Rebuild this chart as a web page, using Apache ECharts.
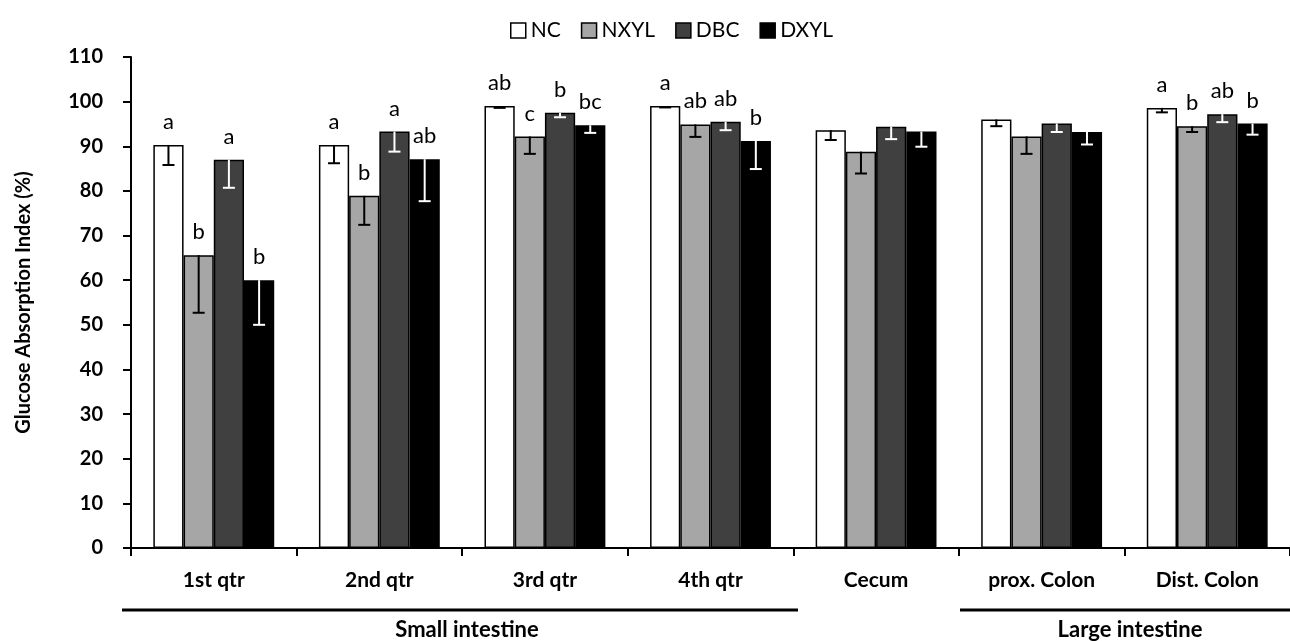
<!DOCTYPE html>
<html>
<head>
<meta charset="utf-8">
<script src="https://cdn.jsdelivr.net/npm/echarts@6/dist/echarts.min.js"></script>
<style>
html,body{margin:0;padding:0;background:#fff;}
#chart{width:1290px;height:641px;}
</style>
</head>
<body>
<div id="chart"></div>
<script>
// ---- data ----
const categories = ['1st qtr', '2nd qtr', '3rd qtr', '4th qtr', 'Cecum', 'prox. Colon', 'Dist. Colon'];
const seriesNames = ['NC', 'NXYL', 'DBC', 'DXYL'];
const ncValues   = [90.3, 90.3, 99.0, 99.0, 93.6, 96.0, 98.6];
const nxylValues = [65.6, 78.9, 92.2, 94.9, 88.8, 92.2, 94.5];
const dbcValues  = [87.0, 93.3, 97.5, 95.5, 94.4, 95.1, 97.2];
const dxylValues = [60.0, 87.1, 94.7, 91.2, 93.3, 93.2, 95.1];
const ncErr   = [4.5, 4.1, 0.4, 0.3, 2.2, 1.5, 1.0];
const nxylErr = [12.9, 6.5, 3.9, 2.8, 4.9, 3.9, 1.3];
const dbcErr  = [6.3, 4.5, 1.0, 1.9, 2.8, 1.9, 1.8];
const dxylErr = [10.0, 9.4, 1.7, 6.3, 3.4, 2.8, 2.5];
const ncLetters   = ['a', 'a', 'ab', 'a', '', '', 'a'];
const nxylLetters = ['b', 'b', 'c', 'ab', '', '', 'b'];
const dbcLetters  = ['a', 'a', 'b', 'ab', '', '', 'ab'];
const dxylLetters = ['b', 'ab', 'bc', 'b', '', '', 'b'];
const yTicks = [0, 10, 20, 30, 40, 50, 60, 70, 80, 90, 100, 110];
const groupLabels = ['Small intestine', 'Large intestine'];

// ---- styling ----
const FONT = 'Lato, "Open Sans", sans-serif';
const fills = ['#FFFFFF', '#A6A6A6', '#404040', '#000000'];
const errColors = ['#000000', '#000000', '#FFFFFF', '#FFFFFF'];
const values = [ncValues, nxylValues, dbcValues, dxylValues];
const errs = [ncErr, nxylErr, dbcErr, dxylErr];
const letters = [ncLetters, nxylLetters, dbcLetters, dxylLetters];
const GAP = 0.27;

const barSeries = seriesNames.map((name, i) => ({
  name: name,
  type: 'bar',
  barGap: '0%',
  barCategoryGap: (GAP * 100) + '%',
  data: values[i],
  itemStyle: { color: fills[i], borderColor: '#000', borderWidth: 1.5 },
  label: {
    show: true,
    position: 'top',
    distance: 12,
    fontFamily: FONT,
    fontSize: 22,
    color: '#000',
    formatter: p => letters[i][p.dataIndex]
  },
  z: 2
}));

const errSeries = seriesNames.map((name, i) => ({
  type: 'custom',
  z: 5,
  silent: true,
  data: values[i].map((v, k) => [k, v, errs[i][k]]),
  encode: { x: 0, y: 1 },
  renderItem: function (params, api) {
    const k = api.value(0), v = api.value(1), e = api.value(2);
    const catW = api.size([1, 0])[0];
    const bw = catW * (1 - GAP) / 4;
    const off = (i - 1.5) * bw;
    const top = api.coord([k, v]);
    const bot = api.coord([k, v - e]);
    const x = top[0] + off;
    const cap = 6;
    const st = { stroke: errColors[i], lineWidth: 2 };
    return {
      type: 'group',
      children: [
        { type: 'line', shape: { x1: x, y1: top[1], x2: x, y2: bot[1] }, style: st },
        { type: 'line', shape: { x1: x - cap, y1: bot[1], x2: x + cap, y2: bot[1] }, style: st }
      ]
    };
  }
}));

const chart = echarts.init(document.getElementById('chart'));
chart.setOption({
  animation: false,
  backgroundColor: '#fff',
  legend: {
    data: seriesNames,
    top: 15,
    left: 505,
    itemWidth: 15,
    itemHeight: 15,
    itemGap: 20,
    icon: 'rect',
    itemStyle: { borderColor: '#000', borderWidth: 1.5 },
    textStyle: { fontFamily: FONT, fontSize: 21, color: '#000' }
  },
  grid: { left: 131, right: -8, top: 57, bottom: 93, containLabel: false },
  xAxis: {
    type: 'category',
    data: categories,
    axisLine: { lineStyle: { color: '#000', width: 2 } },
    axisTick: { show: true, length: 8, lineStyle: { color: '#000', width: 2 } },
    axisLabel: { fontFamily: FONT, fontSize: 21, fontWeight: 'bold', color: '#000', margin: 22 }
  },
  yAxis: {
    type: 'value',
    min: 0, max: 110, interval: 10,
    name: 'Glucose Absorption Index (%)',
    nameLocation: 'middle',
    nameGap: 97,
    nameTextStyle: { fontFamily: FONT, fontSize: 20, fontWeight: 'bold', color: '#000' },
    axisLine: { show: true, lineStyle: { color: '#000', width: 2 } },
    axisTick: { show: true, length: 8, lineStyle: { color: '#000', width: 2 } },
    splitLine: { show: false },
    axisLabel: { fontFamily: FONT, fontSize: 20, fontWeight: 'bold', color: '#000', margin: 28,
      formatter: v => (yTicks.indexOf(v) >= 0 ? String(v) : '') }
  },
  graphic: [
    { type: 'line', shape: { x1: 122, y1: 610, x2: 798, y2: 610 }, style: { stroke: '#000', lineWidth: 3 } },
    { type: 'line', shape: { x1: 960, y1: 610, x2: 1290, y2: 610 }, style: { stroke: '#000', lineWidth: 3 } },
    { type: 'text', x: 467, y: 630, style: { text: groupLabels[0], fontFamily: FONT, fontSize: 22, fontWeight: 'bold', fill: '#000', align: 'center', verticalAlign: 'middle' } },
    { type: 'text', x: 1130, y: 630, style: { text: groupLabels[1], fontFamily: FONT, fontSize: 22, fontWeight: 'bold', fill: '#000', align: 'center', verticalAlign: 'middle' } }
  ],
  series: barSeries.concat(errSeries)
});
</script>
</body>
</html>
